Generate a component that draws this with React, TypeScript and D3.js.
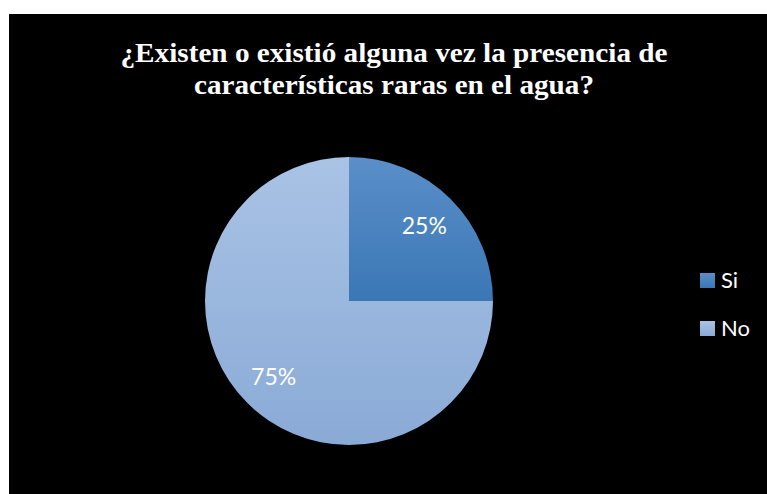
import React from 'react';
import * as d3 from 'd3';

const categories = ['Si', 'No'];
const values = [25, 75];
const titleLines = ['¿Existen o existió alguna vez la presencia de', 'características raras en el agua?'];

const width = 767;
const height = 494;

export default function App() {
  const cx = 349;
  const cy = 301;
  const radius = 144;

  const pie = d3.pie<number>().sort(null).startAngle(0).endAngle(2 * Math.PI);
  const arcs = pie(values);
  const arc = d3.arc<d3.PieArcDatum<number>>().innerRadius(0).outerRadius(radius);
  const total = d3.sum(values);

  // labels sit about 3/4 of the way out, like the original
  const labelArc = d3.arc<d3.PieArcDatum<number>>().innerRadius(radius * 0.74).outerRadius(radius * 0.74);

  const fills = ['url(#gradSi)', 'url(#gradNo)'];
  const titleWidths = [547, 400];

  return (
    <svg width={width} height={height} style={{ position: 'fixed', left: 0, top: 0 }}>
      <defs>
        <linearGradient id="gradSi" x1="0" y1="0" x2="0" y2="1">
          <stop offset="0" stopColor="#5a8fc9" />
          <stop offset="1" stopColor="#3b77b5" />
        </linearGradient>
        <linearGradient id="gradNo" x1="0" y1="0" x2="0" y2="1">
          <stop offset="0" stopColor="#a9c3e5" />
          <stop offset="1" stopColor="#8aaad6" />
        </linearGradient>
      </defs>
      <rect x={0} y={0} width={width} height={height} fill="#ffffff" />
      <rect x={9} y={14} width={width - 9} height={height - 14} fill="#000000" />

      {titleLines.map((t, i) => (
        <text
          key={i}
          x={394}
          y={62 + i * 32}
          textAnchor="middle"
          fill="#ffffff"
          fontFamily="'Liberation Serif', 'Times New Roman', serif"
          fontWeight="bold"
          fontSize={27}
          textLength={titleWidths[i]}
          lengthAdjust="spacingAndGlyphs"
        >
          {t}
        </text>
      ))}

      <g transform={`translate(${cx},${cy})`}>
        {arcs.map((a, i) => (
          <path key={i} d={arc(a) || ''} fill={fills[i]} />
        ))}
        {arcs.map((a, i) => {
          const [lx, ly] = labelArc.centroid(a);
          return (
            <text
              key={'l' + i}
              x={lx}
              y={ly}
              dy="0.36em"
              textAnchor="middle"
              fill="#ffffff"
              fontFamily="Lato, 'Open Sans', sans-serif"
              fontSize={23}
            >
              {Math.round((a.data / total) * 100)}%
            </text>
          );
        })}
      </g>

      {categories.map((c, i) => (
        <g key={c} transform={`translate(700,${273 + i * 48})`}>
          <rect width={15} height={15} fill={fills[i]} />
          <text x={21} y={15} fill="#ffffff" fontFamily="Lato, 'Open Sans', sans-serif" fontSize={22}>
            {c}
          </text>
        </g>
      ))}
    </svg>
  );
}
